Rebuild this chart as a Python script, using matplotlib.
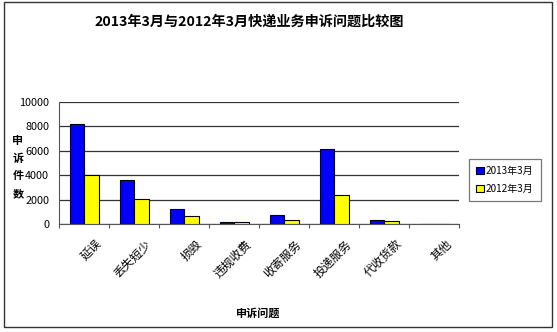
import matplotlib.pyplot as plt
import numpy as np
from matplotlib.patches import Rectangle

plt.rcParams['font.family'] = ['Noto Sans CJK SC', 'DejaVu Sans']

categories = ['延误', '丢失短少', '损毁', '违规收费', '收寄服务', '投递服务', '代收货款', '其他']
mar2013 = [8150, 3600, 1200, 150, 740, 6100, 300, 0]
mar2012 = [3980, 2070, 680, 150, 300, 2350, 220, 0]
series_names = ['2013年3月', '2012年3月']

fig = plt.figure(figsize=(5.57, 3.32), dpi=100)
ax = fig.add_axes([59 / 557, 1 - 224 / 332, 400 / 557, 122.3 / 332])

x = np.arange(len(categories))
w = 0.29
ax.bar(x - w / 2, mar2013, w, color='#0000ff', edgecolor='black', linewidth=0.8,
       label=series_names[0], zorder=3)
ax.bar(x + w / 2, mar2012, w, color='#ffff00', edgecolor='black', linewidth=0.8,
       label=series_names[1], zorder=3)

ax.set_xlim(-0.5, len(categories) - 0.5)
ax.set_ylim(0, 10000)
ax.set_yticks([0, 2000, 4000, 6000, 8000, 10000])
ax.tick_params(axis='y', labelsize=7.8, length=0, pad=7)
ax.yaxis.grid(True, color='#333333', linewidth=0.9, zorder=0)

ax.set_xticks(np.arange(len(categories) + 1) - 0.5)
ax.set_xticklabels([])
ax.tick_params(axis='x', length=3, direction='out', color='#555555')
for i, c in enumerate(categories):
    ax.text(i + 0.22, -1100, c, rotation=45, ha='right', va='top',
            rotation_mode='anchor', fontsize=8.5)

for s in ['top', 'right']:
    ax.spines[s].set_visible(False)
ax.spines['left'].set_color('#555555')
ax.spines['bottom'].set_color('#555555')

fig.text(249 / 557, 1 - 22 / 332, '2013年3月与2012年3月快递业务申诉问题比较图',
         ha='center', va='center', fontsize=10.2, fontweight='bold')
fig.text(18 / 557, 1 - 167 / 332, '申\n诉\n件\n数', ha='center', va='center',
         fontsize=8, fontweight='bold', linespacing=1.45)
fig.text(258 / 557, 1 - 313 / 332, '申诉问题', ha='center', va='center',
         fontsize=8, fontweight='bold')

leg = fig.legend(loc='upper left', bbox_to_anchor=(464 / 557, 1 - 154 / 332),
                 fontsize=7.2, frameon=True, fancybox=False, edgecolor='#555555',
                 handlelength=0.8, handleheight=0.8, handletextpad=0.2,
                 borderpad=0.7, labelspacing=0.8)
leg.get_frame().set_linewidth(0.9)

fig.patches.append(Rectangle((4 / 557, 5 / 332), 548 / 557, 325 / 332,
                             transform=fig.transFigure, fill=False,
                             edgecolor='#333333', linewidth=1))

fig.savefig('out.png', dpi=100)
